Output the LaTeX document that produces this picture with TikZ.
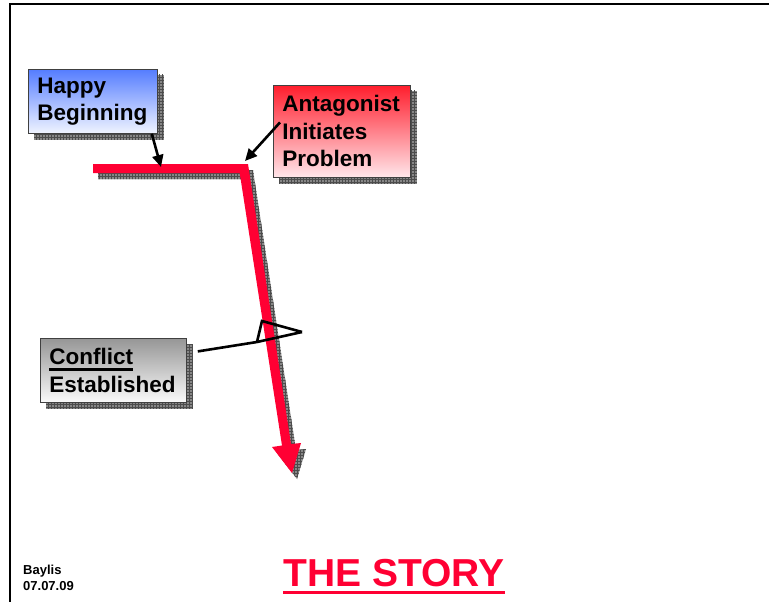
\documentclass[tikz,border=0pt]{standalone}
\usepackage{fontspec}
\setmainfont{Liberation Sans}
\usetikzlibrary{arrows.meta,patterns,backgrounds}
\definecolor{storyred}{RGB}{255,0,51}
\definecolor{shadowgray}{RGB}{135,135,135}
% heavy underline: text, depth below baseline, rule thickness
\newcommand{\thickul}[3]{\setbox0\hbox{#1}\rlap{\rule[-#2]{\wd0}{#3}}\box0}
\tikzset{
  callbox/.style={draw=black!75, line width=0.8pt, anchor=north west, align=left,
    inner xsep=9pt, inner ysep=0pt, text=black,
    font=\fontsize{22.5}{27.5}\selectfont\bfseries},
  boxshadow/.style={fill=shadowgray, postaction={pattern=grid, pattern color=black!70}},
  pointer/.style={line width=2.6pt, -{Triangle[width=11pt,length=12pt]}},
  callout/.style={line width=2.6pt, line join=miter},
}
\begin{document}
\begin{tikzpicture}[x=1pt,y=-1pt]
\useasboundingbox (0,0) rectangle (769,602);

% slide frame
\draw[line width=2pt] (10,602) -- (10,4) -- (769,4);

% story line: flat start, then a steep fall ending in an arrowhead
\fill[storyred] (93,164) -- (248,164) -- (291,444) -- (301,443) -- (292,473)
  -- (272,447) -- (282,445.5) -- (239.7,173) -- (93,173) -- cycle;

% labelled boxes
\node[callbox, top color={rgb,255:red,85;green,125;blue,255},
      bottom color={rgb,255:red,240;green,244;blue,255},
      text width=111pt, minimum height=64pt] (happy) at (28,69) {Happy\\Beginning};
\node[callbox, top color={rgb,255:red,255;green,30;blue,45},
      bottom color={rgb,255:red,255;green,230;blue,234},
      text width=119pt, minimum height=92pt] (antag) at (273,85) {Antagonist\\Initiates\\Problem};
\node[callbox, top color={rgb,255:red,150;green,150;blue,150},
      bottom color={rgb,255:red,250;green,250;blue,250},
      text width=128pt, minimum height=64pt] (conflict) at (40,338)
      {\thickul{Conflict}{6pt}{3pt}\\Established};

% shadows behind boxes and story line
\begin{scope}[on background layer]
  \foreach \n in {happy,antag,conflict}
    \fill[boxshadow] ([shift={(6,6)}]\n.north west) rectangle ([shift={(6,6)}]\n.south east);
  \fill[boxshadow, shift={(5,6)}] (93,164) -- (248,164) -- (291,444) -- (301,443) -- (292,473)
    -- (272,447) -- (282,445.5) -- (239.7,173) -- (93,173) -- cycle;
\end{scope}

% pointers onto the story line
\coordinate (hend) at (161,167);
\coordinate (aend) at (245,161);
\draw[pointer] ([xshift=-6pt]happy.south east) -- (hend);
\draw[pointer] ([shift={(7,-9)}]antag.west) -- (aend);

% open callout from the conflict box
\coordinate (ckneeA) at (257,342);
\coordinate (ckneeB) at (262,321);
\coordinate (ctip) at (302,332);
\draw[callout] ([shift={(11,-19)}]conflict.east) -- (ckneeA) -- (ctip);
\draw[callout] (ckneeA) -- (ckneeB) -- (ctip);

% footer
\node[font=\fontsize{13}{16}\selectfont\bfseries, anchor=base west, inner sep=0pt] (author) at (23,574) {Baylis};
\node[font=\fontsize{13}{16}\selectfont\bfseries, anchor=base west, inner sep=0pt] (date) at (23,590) {07.07.09};
\node[font=\fontsize{39}{47}\selectfont\bfseries, text=storyred, anchor=base, inner sep=0pt] (title) at (394,586)
  {\thickul{THE STORY}{8pt}{3pt}};
\end{tikzpicture}
\end{document}
